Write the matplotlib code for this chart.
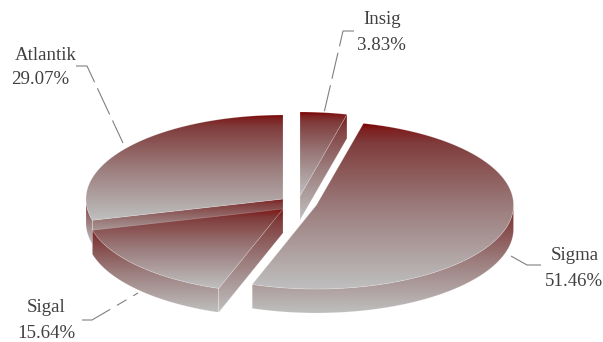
import numpy as np
import matplotlib
matplotlib.use("Agg")
import matplotlib.pyplot as plt
from matplotlib.colors import LinearSegmentedColormap
from matplotlib.patches import Polygon

names = ["Insig", "Sigma", "Sigal", "Atlantik"]
shares = [3.83, 51.46, 15.64, 29.07]

# exploded centre of every slice, in pixels
centers = {"Insig": (300, 196), "Sigma": (316.5, 205), "Sigal": (283, 209), "Atlantik": (283, 199)}
rx, ry, depth = 197, 84, 24

cmap = LinearSegmentedColormap.from_list(
    "redgray", [(0, "#7c0000"), (0.04, "#7e2020"), (0.12, "#803c3c"), (0.5, "#9b7b7b"), (1, "#bfbfbf")])

fig = plt.figure(figsize=(6.03, 3.42), dpi=100)
ax = fig.add_axes([0, 0, 1, 1])
grad = np.linspace(0, 1, 256).reshape(-1, 1)


def rim(c, a0, a1):
    a = np.radians(np.linspace(a0, a1, 120))
    return np.column_stack([c[0] + rx * np.sin(a), c[1] - ry * np.cos(a)])


def fill(pts, z):
    x0, y0 = pts.min(axis=0)
    x1, y1 = pts.max(axis=0)
    im = ax.imshow(grad, cmap=cmap, vmin=0, vmax=1, extent=(x0, x1, y1, y0), aspect="auto", zorder=z)
    p = Polygon(pts, closed=True, fc="none", ec="none", transform=ax.transData)
    ax.add_patch(p)
    im.set_clip_path(p)
    ax.add_patch(Polygon(pts, closed=True, fc="none", ec="white", lw=0.5, alpha=0.25, zorder=z + 0.1))


def wall(top, z):
    fill(np.vstack([top, (top + [0, depth])[::-1]]), z)


# angles run clockwise from 12 o'clock
edges = np.concatenate([[0], np.cumsum(shares) * 3.6])
z = {"Atlantik": 1, "Insig": 2, "Sigal": 3, "Sigma": 4}
for name, a0, a1 in zip(names, edges[:-1], edges[1:]):
    c = np.array(centers[name], dtype=float)
    arc = rim(c, a0, a1)
    base = z[name]
    # outer wall, front half only
    lo, hi = max(a0, 90), min(a1, 270)
    if hi > lo:
        wall(rim(c, lo, hi), base)
    # cut faces that look at the viewer
    if name == "Insig":
        wall(np.array([c, arc[-1]]), base)
    if name in ("Sigal", "Atlantik"):
        wall(np.array([c, arc[0]]), base)
    fill(np.vstack([c, arc]), base + 0.5)

# leader lines, the dash lengths differ per line
leaders = [
    ([354, 343, 324], [31, 31, 113], (0, (24, 6))),
    ([76, 87, 123], [66, 66, 143], (0, (26, 6))),
    ([541, 527, 511], [265, 265, 256], (0, (40, 5))),
    ([82, 92, 138], [320, 320, 293], (0, (28, 7, 10, 7))),
]
for xs, ys, ls in leaders:
    ax.plot(xs, ys, color="#808080", lw=0.8, ls=ls, zorder=6)

label_pos = {"Insig": (382, 381.5, 20, 45), "Sigma": (575, 574, 256, 281),
             "Sigal": (46, 46, 308, 333), "Atlantik": (45.5, 40, 55, 80)}
for name, val in zip(names, shares):
    x0, x1, y0, y1 = label_pos[name]
    ax.text(x0, y0, name, family="Liberation Serif", fontsize=13.6, color="#404040",
            ha="center", va="center", zorder=7)
    ax.text(x1, y1, f"{val:.2f}%", family="Liberation Serif", fontsize=13.6, color="#404040",
            ha="center", va="center", zorder=7)

ax.set_xlim(0, 603)
ax.set_ylim(342, 0)
ax.axis("off")
fig.savefig("out.png", dpi=100)
